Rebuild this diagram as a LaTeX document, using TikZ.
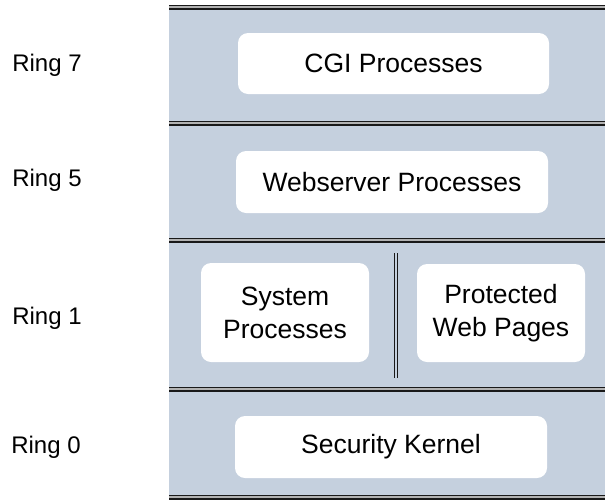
\documentclass[tikz,border=0pt]{standalone}
\usepackage{fontspec}
\setmainfont{Liberation Sans}
\usetikzlibrary{positioning}
\definecolor{ringbg}{RGB}{197,208,222}

\begin{document}
\begin{tikzpicture}[
x=1pt, y=-1pt,
  boks/.style = {rectangle, fill=white, rounded corners=10pt, inner sep=0pt,
                 align=center, font=\fontsize{26.5}{33}\selectfont},
  ring/.style = {font=\fontsize{24}{28}\selectfont},
skille/.style = {draw=black!90, line width=1.6pt, double=gray!60, double distance=1.8pt},
 vegg/.style = {draw=black!90, line width=1pt, double=ringbg, double distance=1.6pt}
                    ]
\useasboundingbox (0,0) rectangle (605,501);
\fill[ringbg] (169,5) rectangle (605,498);

%separators
\coordinate (s0a) at (169,7);   \coordinate (s0b) at (605,7);
\coordinate (s1a) at (169,123); \coordinate (s1b) at (605,123);
\coordinate (s2a) at (169,240); \coordinate (s2b) at (605,240);
\coordinate (s3a) at (169,389); \coordinate (s3b) at (605,389);
\coordinate (s4a) at (169,497); \coordinate (s4b) at (605,497);
\foreach \i in {0,...,4}
  \draw[skille] (s\i a) -- (s\i b);

%nodes
\node[ring] (r7) at (47,65)  {Ring 7};
\node[ring] (r5) at (47,180) {Ring 5};
\node[ring] (r1) at (47,318) {Ring 1};
\node[ring] (r0) at (46,447) {Ring 0};

\node[boks, minimum width=311pt, minimum height=61pt] (cgi)  at (393.5,63.5) {CGI Processes};
\node[boks, minimum width=312pt, minimum height=62pt] (web)  at (392,182)    {Webserver Processes};
\node[boks, minimum width=168pt, minimum height=99pt] (sys)  at (285,312.5)  {System\\Processes};
\node[boks, minimum width=168pt, minimum height=98pt] (prot) at (501,313)    {Protected\\Web Pages};
\node[boks, minimum width=312pt, minimum height=62pt] (kern) at (391,447)    {Security Kernel};

% divider
\coordinate (v1) at (396,253);
\coordinate (v2) at (396,378);
\draw[vegg] (v1) -- (v2);
\end{tikzpicture}
\end{document}
